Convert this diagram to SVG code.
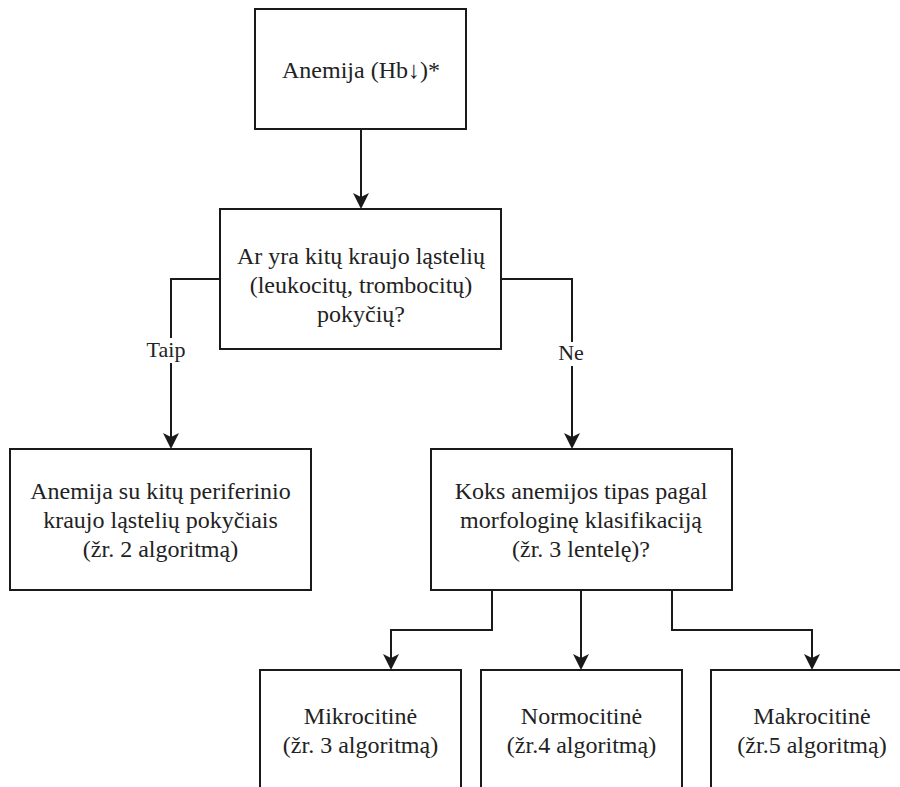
<svg xmlns="http://www.w3.org/2000/svg" width="900" height="787" viewBox="0 0 900 787">
<style>
.box{fill:#fff;stroke:#1a1a1a;stroke-width:2}
.t{font-size:24px;fill:#222;text-anchor:middle}
.lbl{font-size:22px;fill:#222;text-anchor:middle}
.c{fill:none;stroke:#1a1a1a;stroke-width:2}
</style>
<defs>
<marker id="arr" markerUnits="userSpaceOnUse" markerWidth="20" markerHeight="20" viewBox="-18 -10 20 20" refX="-8" refY="0" orient="auto">
<path d="M0,0 L-16,-8 L-12,0 L-16,8 Z" fill="#1a1a1a"/>
</marker>
</defs>
<rect width="900" height="787" fill="#fff"/>
<g font-family="Liberation Serif, Times New Roman, serif">
<g id="connectors">
<path class="c" d="M361 129 V201" marker-end="url(#arr)"/>
<path class="c" d="M220 279 H171 V441" marker-end="url(#arr)"/>
<path class="c" d="M501 279 H572 V441" marker-end="url(#arr)"/>
<path class="c" d="M492 590 V630 H391 V662" marker-end="url(#arr)"/>
<path class="c" d="M581 590 V662" marker-end="url(#arr)"/>
<path class="c" d="M672 590 V630 H812 V662" marker-end="url(#arr)"/>
<g id="label-taip">
<rect x="146" y="338" width="41" height="25" fill="#fff"/>
<text class="lbl" x="166" y="357">Taip</text>
</g>
<g id="label-ne">
<rect x="557" y="342" width="29" height="24" fill="#fff"/>
<text class="lbl" x="571" y="360">Ne</text>
</g>
</g>
<g id="n1">
<rect class="box" x="255" y="9" width="211" height="120"/>
<text class="t" x="361" y="78">Anemija (Hb↓)*</text>
</g>
<g id="n2">
<rect class="box" x="220" y="209" width="281" height="140"/>
<text class="t" x="361" y="264">Ar yra kitų kraujo ląstelių</text>
<text class="t" x="361" y="293">(leukocitų, trombocitų)</text>
<text class="t" x="361" y="322">pokyčių?</text>
</g>
<g id="n3">
<rect class="box" x="10" y="449" width="301" height="141"/>
<text class="t" x="160.5" y="499">Anemija su kitų periferinio</text>
<text class="t" x="160.5" y="528">kraujo ląstelių pokyčiais</text>
<text class="t" x="160.5" y="557">(žr. 2 algoritmą)</text>
</g>
<g id="n4">
<rect class="box" x="431" y="449" width="301" height="141"/>
<text class="t" x="581" y="499">Koks anemijos tipas pagal</text>
<text class="t" x="581" y="528">morfologinę klasifikaciją</text>
<text class="t" x="581" y="557">(žr. 3 lentelę)?</text>
</g>
<g id="n5">
<rect class="box" x="260" y="670" width="201" height="140"/>
<text class="t" x="360.5" y="724">Mikrocitinė</text>
<text class="t" x="360.5" y="753">(žr. 3 algoritmą)</text>
</g>
<g id="n6">
<rect class="box" x="481" y="670" width="201" height="140"/>
<text class="t" x="581.5" y="724">Normocitinė</text>
<text class="t" x="581.5" y="753">(žr.4 algoritmą)</text>
</g>
<g id="n7">
<rect class="box" x="711" y="670" width="202" height="140"/>
<text class="t" x="812" y="724">Makrocitinė</text>
<text class="t" x="812" y="753">(žr.5 algoritmą)</text>
</g>
</g>
</svg>
